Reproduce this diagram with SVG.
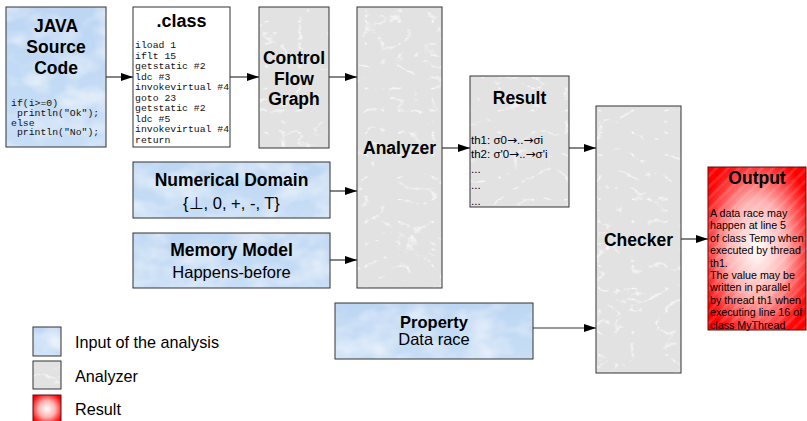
<svg xmlns="http://www.w3.org/2000/svg" width="807" height="421" viewBox="0 0 807 421">
<style>
.b{fill:none;stroke:#333;stroke-width:1}
.t{font-family:"Liberation Sans",Arial,sans-serif;fill:#000}
.h{font-weight:bold;font-size:17.5px;text-anchor:middle}
.hs{font-weight:bold;font-size:16.5px;text-anchor:middle}
.r{font-size:16.5px;text-anchor:middle}
.m{font-family:"Liberation Mono","Courier New",monospace;font-size:9.8px;fill:#111}
.s{font-size:11.5px}
.ar{font-family:"DejaVu Sans",sans-serif;font-size:12px}
.o{font-size:10.7px}
.c{stroke:#333;stroke-width:1.2;fill:none;marker-end:url(#ah)}
</style>
<defs>
<marker id="ah" markerUnits="userSpaceOnUse" markerWidth="13" markerHeight="9" refX="12" refY="4" orient="auto">
<path d="M0,0 L12,4 L0,8 z" fill="#000"/>
</marker>
<linearGradient id="blueG" x1="0" y1="0" x2="0" y2="1">
<stop offset="0" stop-color="#bcd6f3"/>
<stop offset="1" stop-color="#c8def6"/>
</linearGradient>
<filter id="cloud" x="0" y="0" width="1" height="1">
<feTurbulence type="fractalNoise" baseFrequency="0.03 0.045" numOctaves="3" seed="4" result="n"/>
<feColorMatrix in="n" type="matrix" values="0 0 0 0 1 0 0 0 0 1 0 0 0 0 1 1.1 0 0 0 -0.42" result="w"/>
<feComposite in="w" in2="SourceAlpha" operator="in" result="wc"/>
<feMerge><feMergeNode in="SourceGraphic"/><feMergeNode in="wc"/></feMerge>
</filter>
<filter id="marble" x="0" y="0" width="1" height="1">
<feTurbulence type="turbulence" baseFrequency="0.03 0.045" numOctaves="4" seed="7" result="n"/>
<feColorMatrix in="n" type="matrix" values="0 0 0 0 1 0 0 0 0 1 0 0 0 0 1 -5 0 0 0 0.8" result="w"/>
<feComposite in="w" in2="SourceAlpha" operator="in" result="wc"/>
<feMerge><feMergeNode in="SourceGraphic"/><feMergeNode in="wc"/></feMerge>
</filter>
<radialGradient id="redG" cx="0.5" cy="0.5" r="0.6">
<stop offset="0" stop-color="#ffffff"/>
<stop offset="0.5" stop-color="#ffb0b0"/>
<stop offset="0.85" stop-color="#ff3030"/>
<stop offset="1" stop-color="#ff0000"/>
</radialGradient>
<pattern id="stripes" patternUnits="userSpaceOnUse" width="8" height="8" patternTransform="rotate(45)">
<rect x="0" y="0" width="3" height="8" fill="#ffffff" fill-opacity="0.12"/>
</pattern>
</defs>
<rect width="807" height="421" fill="#fff"/>

<g id="java">
<rect x="6" y="7" width="100" height="140" fill="url(#blueG)" filter="url(#cloud)"/>
<rect x="6" y="7" width="100" height="140" class="b"/>
<text class="t h" x="56" y="32">JAVA</text>
<text class="t h" x="56" y="53">Source</text>
<text class="t h" x="56" y="74">Code</text>
<text class="m" x="11" y="106" xml:space="preserve">if(i&gt;=0)</text>
<text class="m" x="11" y="116" xml:space="preserve"> println("Ok");</text>
<text class="m" x="11" y="125.5" xml:space="preserve">else</text>
<text class="m" x="11" y="135" xml:space="preserve"> println("No");</text>
</g>

<g id="class">
<rect x="133" y="7" width="97" height="140" fill="#fff" stroke="#333" stroke-width="1"/>
<text class="t" x="181.5" y="27" font-weight="bold" font-size="18" text-anchor="middle">.class</text>
<text class="m" x="135" y="48">iload 1</text>
<text class="m" x="135" y="58.5">iflt 15</text>
<text class="m" x="135" y="69">getstatic #2</text>
<text class="m" x="135" y="79.5">ldc #3</text>
<text class="m" x="135" y="90">invokevirtual #4</text>
<text class="m" x="135" y="100.5">goto 23</text>
<text class="m" x="135" y="111">getstatic #2</text>
<text class="m" x="135" y="121.5">ldc #5</text>
<text class="m" x="135" y="132">invokevirtual #4</text>
<text class="m" x="135" y="142.5">return</text>
</g>

<g id="cfg">
<rect x="259" y="7" width="70" height="141" fill="#e2e2e2" filter="url(#marble)"/>
<rect x="259" y="7" width="70" height="141" class="b"/>
<text class="t h" x="294" y="64">Control</text>
<text class="t h" x="294" y="85">Flow</text>
<text class="t h" x="294" y="105">Graph</text>
</g>

<g id="analyzer">
<rect x="357" y="7" width="85" height="281" fill="#e2e2e2" filter="url(#marble)"/>
<rect x="357" y="7" width="85" height="281" class="b"/>
<text class="t h" x="399.5" y="154">Analyzer</text>
</g>

<g id="numdomain">
<rect x="133" y="162" width="197" height="56" fill="url(#blueG)" filter="url(#cloud)"/>
<rect x="133" y="162" width="197" height="56" class="b"/>
<text class="t h" x="231.5" y="186">Numerical Domain</text>
<text class="t r" x="231.5" y="209">{⊥, 0, +, -, T}</text>
</g>

<g id="memory">
<rect x="133" y="233" width="197" height="55" fill="url(#blueG)" filter="url(#cloud)"/>
<rect x="133" y="233" width="197" height="55" class="b"/>
<text class="t h" x="231.5" y="256">Memory Model</text>
<text class="t r" x="231.5" y="278">Happens-before</text>
</g>

<g id="result">
<rect x="470" y="76" width="99" height="131" fill="#e2e2e2" filter="url(#marble)"/>
<rect x="470" y="76" width="99" height="131" class="b"/>
<text class="t h" x="519.5" y="104">Result</text>
<text class="t s" x="471" y="144">th1: σ0<tspan class="ar">→</tspan>..<tspan class="ar">→</tspan>σi</text>
<text class="t s" x="471" y="158">th2: σ'0<tspan class="ar">→</tspan>..<tspan class="ar">→</tspan>σ'i</text>
<text class="t s" x="471" y="173">...</text>
<text class="t s" x="471" y="189">...</text>
<text class="t s" x="471" y="205">...</text>
</g>

<g id="checker">
<rect x="596" y="106" width="85" height="267" fill="#e2e2e2" filter="url(#marble)"/>
<rect x="596" y="106" width="85" height="267" class="b"/>
<text class="t h" x="638.5" y="246">Checker</text>
</g>

<g id="property">
<rect x="335" y="303" width="198" height="56" fill="url(#blueG)" filter="url(#cloud)"/>
<rect x="335" y="303" width="198" height="56" class="b"/>
<text class="t hs" x="434" y="328">Property</text>
<text class="t r" x="434" y="345">Data race</text>
</g>

<g id="output">
<rect x="708" y="167" width="98" height="163" fill="url(#redG)"/>
<rect x="708" y="167" width="98" height="163" fill="url(#stripes)"/>
<rect x="708" y="167" width="98" height="163" fill="none" stroke="#5a1010" stroke-width="1"/>
<text class="t h" x="757" y="184">Output</text>
<text class="t o" x="710" y="217">A data race may</text>
<text class="t o" x="710" y="229.4">happen at line 5</text>
<text class="t o" x="710" y="241.8">of class Temp when</text>
<text class="t o" x="710" y="254.2">executed by thread</text>
<text class="t o" x="710" y="266.6">th1.</text>
<text class="t o" x="710" y="279">The value may be</text>
<text class="t o" x="710" y="291.4">written in parallel</text>
<text class="t o" x="710" y="303.8">by thread th1 when</text>
<text class="t o" x="710" y="316.2">executing line 16 of</text>
<text class="t o" x="710" y="328.6">class MyThread</text>
</g>

<g id="legend">
<rect x="33" y="327" width="28" height="29" fill="url(#blueG)" filter="url(#cloud)"/>
<rect x="33" y="327" width="28" height="29" class="b"/>
<text class="t" x="75" y="348" font-size="16.2">Input of the analysis</text>
<rect x="33" y="361" width="28" height="28" fill="#e2e2e2" filter="url(#marble)"/>
<rect x="33" y="361" width="28" height="28" class="b"/>
<text class="t" x="75" y="382" font-size="16.2">Analyzer</text>
<rect x="33" y="395" width="28" height="28" fill="url(#redG)"/>
<rect x="33" y="395" width="28" height="28" fill="none" stroke="#5a1010" stroke-width="1"/>
<text class="t" x="75" y="415" font-size="16.2">Result</text>
</g>

<g id="connectors">
<line class="c" x1="106" y1="77" x2="133" y2="77"/>
<line class="c" x1="230" y1="77" x2="259" y2="77"/>
<line class="c" x1="329" y1="77" x2="357" y2="77"/>
<line class="c" x1="330" y1="191" x2="357" y2="191"/>
<line class="c" x1="330" y1="260" x2="357" y2="260"/>
<line class="c" x1="442" y1="148" x2="470" y2="148"/>
<line class="c" x1="569" y1="148" x2="596" y2="148"/>
<line class="c" x1="533" y1="328" x2="596" y2="328"/>
<line class="c" x1="681" y1="239" x2="708" y2="239"/>
</g>
</svg>
